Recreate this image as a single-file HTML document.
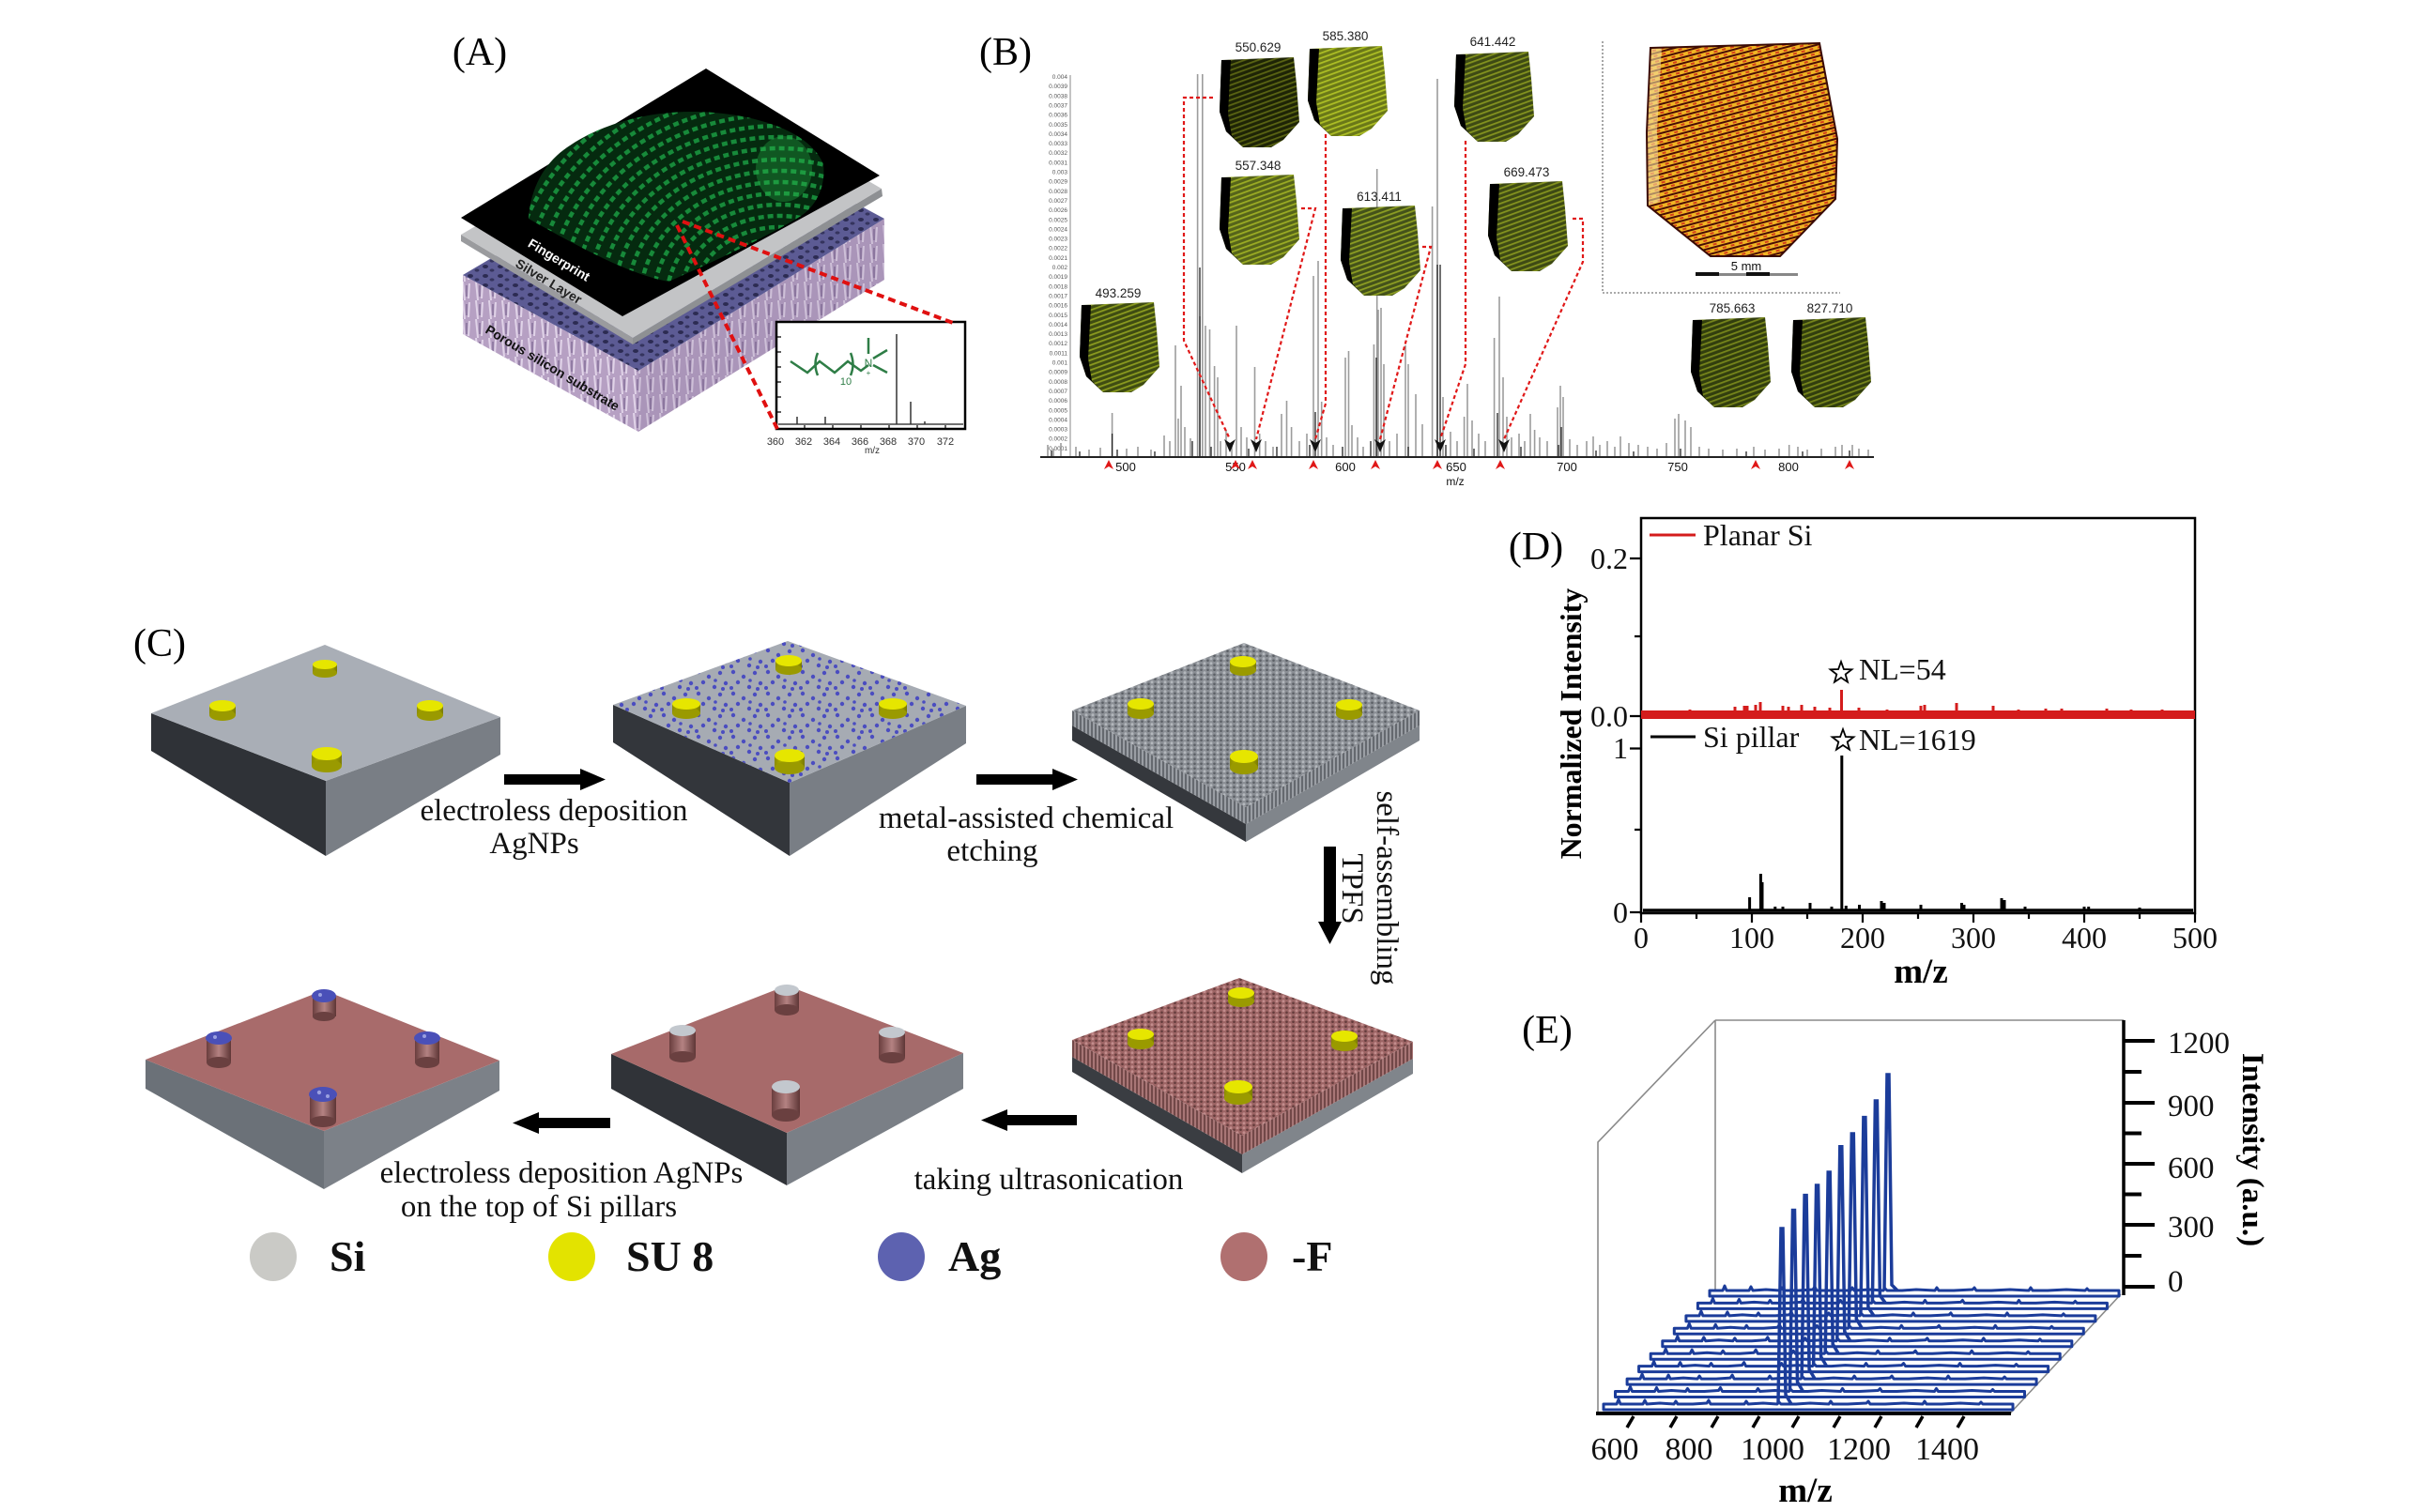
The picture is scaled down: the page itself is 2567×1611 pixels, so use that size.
<!DOCTYPE html>
<html><head><meta charset="utf-8">
<style>
html,body{margin:0;padding:0;background:#fff;}
svg{display:block;}
.s{font-family:"Liberation Serif","Times New Roman",serif;}
.a{font-family:"Liberation Sans",Arial,sans-serif;}
</style></head><body>
<svg xmlns="http://www.w3.org/2000/svg" xmlns:xlink="http://www.w3.org/1999/xlink" width="2567" height="1611" viewBox="0 0 2567 1611">
<defs>
 <pattern id="gw" width="7" height="5" patternUnits="userSpaceOnUse">
  <rect width="7" height="5" fill="#8a8e94"/>
  <circle cx="2" cy="1.8" r="1.5" fill="#b3b7bc"/>
  <circle cx="5.5" cy="3.8" r="1.3" fill="#5c6066"/>
 </pattern>
 <pattern id="gs" width="4" height="20" patternUnits="userSpaceOnUse">
  <rect width="4" height="20" fill="#9a9ea4"/>
  <rect x="2.3" width="1.4" height="20" fill="#4e5258"/>
 </pattern>
 <pattern id="pw" width="7" height="5" patternUnits="userSpaceOnUse">
  <rect width="7" height="5" fill="#9c6464"/>
  <circle cx="2" cy="1.8" r="1.5" fill="#c28c8c"/>
  <circle cx="5.5" cy="3.8" r="1.3" fill="#643c3c"/>
 </pattern>
 <pattern id="ps" width="4" height="20" patternUnits="userSpaceOnUse">
  <rect width="4" height="20" fill="#a87676"/>
  <rect x="2.3" width="1.4" height="20" fill="#5a3434"/>
 </pattern>
 <pattern id="ag" width="37" height="23" patternUnits="userSpaceOnUse">
  <circle cx="4" cy="3" r="2.2" fill="#4b4dc0"/>
  <circle cx="15" cy="8" r="2.2" fill="#4b4dc0"/>
  <circle cx="27" cy="4" r="2.2" fill="#4b4dc0"/>
  <circle cx="33" cy="15" r="2.2" fill="#4b4dc0"/>
  <circle cx="9" cy="14" r="2.2" fill="#4b4dc0"/>
  <circle cx="21" cy="19" r="2.2" fill="#4b4dc0"/>
  <circle cx="30" cy="21" r="2" fill="#4b4dc0"/>
  <circle cx="2" cy="20" r="2" fill="#4b4dc0"/>
  <circle cx="22" cy="12" r="1.8" fill="#4b4dc0"/>
 </pattern>
 <pattern id="lil" width="14" height="20" patternUnits="userSpaceOnUse">
  <rect width="14" height="20" fill="#b6a0c3"/>
  <path d="M3,0 L5,20 M10,2 L9,18" stroke="#e0d3e8" stroke-width="2"/>
  <path d="M7,4 L7,16" stroke="#85709a" stroke-width="1.5"/>
 </pattern>
 <pattern id="hol" width="16" height="10" patternUnits="userSpaceOnUse">
  <rect width="16" height="10" fill="#5c5b94"/>
  <ellipse cx="5" cy="4" rx="3" ry="2" fill="#2c2b52"/>
  <ellipse cx="12" cy="8" rx="2.5" ry="1.6" fill="#35345e"/>
 </pattern>
 <pattern id="fpy" width="8" height="5" patternUnits="userSpaceOnUse" patternTransform="rotate(-20)">
  <rect y="1" width="8" height="1.8" fill="#c9dc2a"/>
 </pattern>
 <pattern id="fpo" width="9" height="6" patternUnits="userSpaceOnUse" patternTransform="rotate(-15)">
  <rect width="9" height="6" fill="#f0b424"/>
  <rect y="0" width="9" height="2" fill="#4a0c04"/>
  <rect x="3" y="3" width="4" height="2" fill="#d4401a"/>
 </pattern>
 <clipPath id="blob"><path d="M563,233 C565,200 580,175 600,160 C640,130 700,115 760,120 C820,125 865,145 877,175 C880,200 868,222 850,232 C820,250 780,270 712,300 C670,292 620,265 563,233 Z"/></clipPath>
 <path id="tb" d="M2,3 L79,0 L82,29 L85,69 L68,88 L55,96 L25,96 L7,79 L0,58 Z"/>
 <path id="tbs" d="M2,3 L12,3 L9,60 L13,84 L25,96 L7,79 L0,58 Z"/>
 <polygon id="star" points="0,-12 2.9,-4 11.4,-3.7 4.7,1.5 7,9.7 0,5 -7,9.7 -4.7,1.5 -11.4,-3.7 -2.9,-4"/>
 <linearGradient id="cylP" x1="0" x2="1" y1="0" y2="0">
  <stop offset="0" stop-color="#6a3e3e"/><stop offset="0.5" stop-color="#b48282"/><stop offset="1" stop-color="#5e3636"/>
 </linearGradient>
 <linearGradient id="cylY" x1="0" x2="1" y1="0" y2="0">
  <stop offset="0" stop-color="#8c8c00"/><stop offset="0.5" stop-color="#d2d200"/><stop offset="1" stop-color="#7a7a00"/>
 </linearGradient>
 <g id="rib">
  <path d="M0,0 L8,0 L14,0 L16,-5 L18,0 L30,0 L42,0 L44,-4 L46,0 L60,-1 L75,0 L77,-3 L79,0 L95,0 L110,-1 L112,-4 L114,0 L130,0 L150,0 L152,-3 L154,0 L170,-1 L185,0 L187,-2 L189,0 L205,0 L220,-1 L240,0 L242,-3 L244,0 L260,0 L280,-1 L282,-3 L284,0 L300,0 L320,-1 L340,0 L342,-3 L344,0 L360,0 L380,-1 L400,0 L402,-2 L404,0 L420,0 L436,0 L436,6 L0,6 Z" fill="#fff" stroke="#1b3c9a" stroke-width="3" stroke-linejoin="round"/>
 </g>
</defs>
<rect width="2567" height="1611" fill="#fff"/>

<!-- ================= PANEL A ================= -->
<text class="s" x="511" y="69" font-size="42" text-anchor="middle">(A)</text>
<polygon points="493,293 680,395 680,460 493,356" fill="url(#lil)"/>
<polygon points="680,395 942,233 942,298 680,460" fill="url(#lil)"/>
<polygon points="680,395 942,233 942,298 680,460" fill="#6a5480" opacity="0.15"/>
<polygon points="493,293 760,135 942,233 680,395" fill="url(#hol)"/>
<polygon points="491,250 674,360 674,367 491,257" fill="#9a9b9e"/>
<polygon points="674,360 939,201 940,209 674,367" fill="#8e9093"/>
<polygon points="491,250 757,95 939,201 674,360" fill="#c3c4c6"/>
<polygon points="491,232 752,73 937,187 663,337" fill="#000"/>
<path d="M563,233 C565,200 580,175 600,160 C640,130 700,115 760,120 C820,125 865,145 877,175 C880,200 868,222 850,232 C820,250 780,270 712,300 C670,292 620,265 563,233 Z" fill="#052a0f"/>
<g clip-path="url(#blob)" fill="none" stroke="#178a3a" stroke-width="4.5" stroke-dasharray="6 4">
 <ellipse cx="830" cy="320" rx="36" ry="30"/><ellipse cx="830" cy="320" rx="50" ry="42"/>
 <ellipse cx="830" cy="320" rx="64" ry="54"/><ellipse cx="830" cy="320" rx="78" ry="66"/>
 <ellipse cx="830" cy="320" rx="92" ry="78"/><ellipse cx="830" cy="320" rx="106" ry="90"/>
 <ellipse cx="830" cy="320" rx="120" ry="102"/><ellipse cx="830" cy="320" rx="134" ry="114"/>
 <ellipse cx="830" cy="320" rx="148" ry="126"/><ellipse cx="830" cy="320" rx="162" ry="138"/>
 <ellipse cx="830" cy="320" rx="176" ry="150"/><ellipse cx="830" cy="320" rx="190" ry="162"/>
 <ellipse cx="830" cy="320" rx="204" ry="174"/><ellipse cx="830" cy="320" rx="218" ry="186"/>
 <ellipse cx="830" cy="320" rx="232" ry="198"/><ellipse cx="830" cy="320" rx="246" ry="210"/>
 <ellipse cx="830" cy="320" rx="260" ry="222"/><ellipse cx="830" cy="320" rx="274" ry="234"/>
 <ellipse cx="830" cy="320" rx="288" ry="246"/>
</g>
<ellipse cx="835" cy="180" rx="30" ry="35" fill="#2cc050" opacity="0.3" clip-path="url(#blob)"/>
<text class="a" font-size="14" font-weight="bold" fill="#fff" text-anchor="middle" transform="translate(593,281) rotate(31)">Fingerprint</text>
<text class="a" font-size="14" font-weight="bold" fill="#222" text-anchor="middle" transform="translate(582,304) rotate(31)">Silver Layer</text>
<text class="a" font-size="14" font-weight="bold" fill="#111" text-anchor="middle" transform="translate(586,396) rotate(31)">Porous silicon substrate</text>
<rect x="827" y="343" width="201" height="114" fill="#fff" stroke="#000" stroke-width="2.5"/>
<g stroke="#000" stroke-width="1.2">
 <path d="M827,359 h5 M827,375 h5 M827,391 h5 M827,407 h5 M827,423 h5 M827,439 h5"/>
 <path d="M857,457 v-4 M887,457 v-4 M917,457 v-4 M947,457 v-4 M977,457 v-4 M1007,457 v-4"/>
</g>
<path d="M829,452 L1026,452" stroke="#444" stroke-width="1.5"/>
<path d="M849,452 V444 M879,452 V444 M955,452 V356 M970,452 V428 M985,452 V449" stroke="#333" stroke-width="1.5"/>
<g stroke="#2e7d46" stroke-width="2.5" fill="none">
 <path d="M842,385 L860,397 L873,385 L889,397 L903,385 L917,395 L925,389"/>
 <path d="M925,360 V377 M930,382 L945,373 M930,389 L945,397"/>
 <path d="M871,376 Q866,388 871,400 M906,376 Q911,388 906,400"/>
</g>
<text class="a" x="925" y="391" font-size="12" fill="#2e7d46" text-anchor="middle">N</text>
<text class="a" x="925" y="400" font-size="8" fill="#2e7d46" text-anchor="middle">+</text>
<text class="a" x="901" y="410" font-size="11" fill="#2e7d46" text-anchor="middle">10</text>
<g class="a" font-size="11" fill="#333" text-anchor="middle">
 <text x="826" y="474">360</text><text x="856" y="474">362</text><text x="886" y="474">364</text>
 <text x="916" y="474">366</text><text x="946" y="474">368</text><text x="976" y="474">370</text><text x="1007" y="474">372</text>
 <text x="929" y="483" font-size="10">m/z</text>
</g>
<path d="M727,236 L1015,344 M721,240 L828,457" stroke="#e01010" stroke-width="4" stroke-dasharray="8 5" fill="none"/>

<!-- ================= PANEL B ================= -->
<text class="s" x="1071" y="69" font-size="42" text-anchor="middle">(B)</text>
<line x1="1140" y1="80" x2="1140" y2="487" stroke="#888" stroke-width="1"/>
<g class="a" font-size="6.5" fill="#555" text-anchor="end">
<text x="1137" y="84">0.004</text><text x="1137" y="94.2">0.0039</text><text x="1137" y="104.3">0.0038</text><text x="1137" y="114.5">0.0037</text>
<text x="1137" y="124.6">0.0036</text><text x="1137" y="134.8">0.0035</text><text x="1137" y="144.9">0.0034</text><text x="1137" y="155.1">0.0033</text>
<text x="1137" y="165.2">0.0032</text><text x="1137" y="175.4">0.0031</text><text x="1137" y="185.5">0.003</text><text x="1137" y="195.7">0.0029</text>
<text x="1137" y="205.8">0.0028</text><text x="1137" y="216">0.0027</text><text x="1137" y="226.1">0.0026</text><text x="1137" y="236.3">0.0025</text>
<text x="1137" y="246.4">0.0024</text><text x="1137" y="256.6">0.0023</text><text x="1137" y="266.7">0.0022</text><text x="1137" y="276.9">0.0021</text>
<text x="1137" y="287">0.002</text><text x="1137" y="297.2">0.0019</text><text x="1137" y="307.3">0.0018</text><text x="1137" y="317.5">0.0017</text>
<text x="1137" y="327.6">0.0016</text><text x="1137" y="337.8">0.0015</text><text x="1137" y="347.9">0.0014</text><text x="1137" y="358.1">0.0013</text>
<text x="1137" y="368.2">0.0012</text><text x="1137" y="378.4">0.0011</text><text x="1137" y="388.5">0.001</text><text x="1137" y="398.7">0.0009</text>
<text x="1137" y="408.8">0.0008</text><text x="1137" y="419">0.0007</text><text x="1137" y="429.1">0.0006</text><text x="1137" y="439.3">0.0005</text>
<text x="1137" y="449.4">0.0004</text><text x="1137" y="459.6">0.0003</text><text x="1137" y="469.7">0.0002</text><text x="1137" y="479.9">0.0001</text>
</g>
<path stroke="#9c9c9c" stroke-width="1.6" fill="none" d="
M1184.6,486V440 M1240,486V464 M1252,486V368 M1255,486V446 M1258,486V411 M1268,486V467 M1275.6,486V79 M1280.8,486V79
M1278,486V337 M1284,486V347 M1288.5,486V351 M1293.6,486V390 M1297,486V402 M1306,486V458 M1317,486V347 M1322,486V455
M1336.5,486V391 M1341.7,486V462 M1365,486V441 M1370.5,486V427 M1375.6,486V455 M1399,486V294 M1404,486V278 M1407.7,486V428
M1433,486V381 M1436.5,486V374 M1440,486V453 M1463.4,486V367 M1466.7,486V180 M1468,486V330 M1471,486V328 M1474,486V388
M1497,486V368 M1500,486V388 M1508,486V420 M1525.6,486V220 M1531,486V84 M1537,486V423 M1559.6,486V444 M1563,486V409
M1568,486V448 M1591.6,486V360 M1597,486V316 M1601,486V402 M1630,486V441 M1634.6,486V458 M1659,486V434 M1662,486V411
M1665,486V423 M1697,486V465 M1726,486V465 M1784,486V446 M1788,486V441 M1795,486V448 M1801,486V455 M1905.7,486V474 M1973,486V474
M1116,486V474 M1122,486V478 M1130,486V472 M1146,486V476 M1160,486V479 M1172,486V477 M1200,486V478 M1212,486V476 M1226,486V479
M1246,486V470 M1262,486V455 M1300,486V470 M1312,486V474 M1328,486V466 M1348,486V470 M1356,486V476 M1384,486V470 M1392,486V462
M1413,486V466 M1420,486V474 M1446,486V466 M1452,486V476 M1480,486V470 M1488,486V462 M1515,486V452 M1545,486V460 M1552,486V470
M1575,486V462 M1582,486V470 M1605,486V444 M1610,486V466 M1618,486V462 M1624,486V470 M1640,486V466 M1648,486V470 M1672,486V468
M1680,486V474 M1690,486V470 M1704,486V474 M1712,486V470 M1720,486V476 M1735,486V472 M1745,486V474 M1755,486V476 M1765,486V478
M1775,486V472 M1810,486V476 M1820,486V478 M1835,486V479 M1850,486V478 M1868,486V476 M1880,486V479 M1895,486V478 M1915,486V476
M1925,486V479 M1940,486V478 M1955,486V476 M1962,486V474 M1980,486V478 M1990,486V479"/>
<path stroke="#222" stroke-width="1.3" fill="none" d="M1184.6,486V462 M1278,486V285 M1401,486V439 M1466,486V381 M1531,486V282 M1534,486V282 M1595,486V440 M1663,486V455
M1120,486V480 M1150,486V481 M1190,486V479 M1230,486V481 M1270,486V470 M1290,486V476 M1330,486V478 M1360,486V476 M1395,486V474 M1430,486V476 M1460,486V470 M1500,486V476 M1540,486V474 M1570,486V478 M1620,486V476 M1660,486V474 M1700,486V480 M1740,486V481 M1790,486V478 M1860,486V481 M1920,486V481 M1970,486V480"/>
<line x1="1108" y1="487" x2="1996" y2="487" stroke="#222" stroke-width="2"/>
<g class="a" font-size="13" fill="#111" text-anchor="middle">
 <text x="1199" y="502">500</text><text x="1316" y="502">550</text><text x="1433" y="502">600</text><text x="1551" y="502">650</text>
 <text x="1669" y="502">700</text><text x="1787" y="502">750</text><text x="1905" y="502">800</text>
 <text x="1550" y="517" font-size="12">m/z</text>
</g>
<g fill="#e01818">
 <polygon points="1181,490 1176,500 1181,497 1186,500"/><polygon points="1316,490 1311,500 1316,497 1321,500"/>
 <polygon points="1334,490 1329,500 1334,497 1339,500"/><polygon points="1399,490 1394,500 1399,497 1404,500"/>
 <polygon points="1465,490 1460,500 1465,497 1470,500"/><polygon points="1531,490 1526,500 1531,497 1536,500"/>
 <polygon points="1598,490 1593,500 1598,497 1603,500"/><polygon points="1870,490 1865,500 1870,497 1875,500"/>
 <polygon points="1970,490 1965,500 1970,497 1975,500"/>
</g>
<g fill="#111">
 <polygon points="1310,482 1304,468 1310,472 1316,468"/><polygon points="1338,482 1332,468 1338,472 1344,468"/>
 <polygon points="1401,482 1395,468 1401,472 1407,468"/><polygon points="1470,482 1464,468 1470,472 1476,468"/>
 <polygon points="1534,482 1528,468 1534,472 1540,468"/><polygon points="1602,482 1596,468 1602,472 1608,468"/>
</g>
<g stroke="#e01818" stroke-width="2.2" stroke-dasharray="4 3" fill="none">
 <path d="M1292,104 H1261 V363 L1310,468"/>
 <path d="M1386,222 H1401 L1338,468"/>
 <path d="M1412,143 V430 L1401,468"/>
 <path d="M1515,263 H1524 L1470,468"/>
 <path d="M1561,150 V388 L1534,468"/>
 <path d="M1675,233 H1686 V279 L1602,468"/>
</g>
<g>
 <use xlink:href="#tb" x="1150" y="322" fill="#3f4c12"/><use xlink:href="#tb" x="1150" y="322" fill="url(#fpy)" opacity="0.55"/><use xlink:href="#tbs" x="1150" y="322" fill="#000"/>
 <use xlink:href="#tb" x="1299" y="61" fill="#1e2406"/><use xlink:href="#tb" x="1299" y="61" fill="url(#fpy)" opacity="0.35"/><use xlink:href="#tbs" x="1299" y="61" fill="#000"/>
 <use xlink:href="#tb" x="1393" y="49" fill="#6a7818"/><use xlink:href="#tb" x="1393" y="49" fill="url(#fpy)" opacity="0.7"/><use xlink:href="#tbs" x="1393" y="49" fill="#000"/>
 <use xlink:href="#tb" x="1299" y="186" fill="#56641a"/><use xlink:href="#tb" x="1299" y="186" fill="url(#fpy)" opacity="0.6"/><use xlink:href="#tbs" x="1299" y="186" fill="#000"/>
 <use xlink:href="#tb" x="1428" y="219" fill="#44521a"/><use xlink:href="#tb" x="1428" y="219" fill="url(#fpy)" opacity="0.55"/><use xlink:href="#tbs" x="1428" y="219" fill="#000"/>
 <use xlink:href="#tb" x="1549" y="55" fill="#3e4a14"/><use xlink:href="#tb" x="1549" y="55" fill="url(#fpy)" opacity="0.5"/><use xlink:href="#tbs" x="1549" y="55" fill="#000"/>
 <use xlink:href="#tb" x="1585" y="193" fill="#3e4a14"/><use xlink:href="#tb" x="1585" y="193" fill="url(#fpy)" opacity="0.5"/><use xlink:href="#tbs" x="1585" y="193" fill="#000"/>
 <use xlink:href="#tb" x="1801" y="338" fill="#323e0e"/><use xlink:href="#tb" x="1801" y="338" fill="url(#fpy)" opacity="0.45"/><use xlink:href="#tbs" x="1801" y="338" fill="#000"/>
 <use xlink:href="#tb" x="1908" y="338" fill="#323e0e"/><use xlink:href="#tb" x="1908" y="338" fill="url(#fpy)" opacity="0.45"/><use xlink:href="#tbs" x="1908" y="338" fill="#000"/>
</g>
<g class="a" font-size="13.5" fill="#222" text-anchor="middle">
 <text x="1191" y="317">493.259</text><text x="1340" y="55">550.629</text><text x="1433" y="43">585.380</text>
 <text x="1340" y="181">557.348</text><text x="1469" y="214">613.411</text><text x="1590" y="49">641.442</text>
 <text x="1626" y="188">669.473</text><text x="1845" y="333">785.663</text><text x="1949" y="333">827.710</text>
</g>
<path d="M1707,44 V312 H1960" stroke="#777" stroke-width="1.3" stroke-dasharray="2 2" fill="none"/>
<path d="M1758,51 L1938,46 L1957,148 L1955,212 L1896,273 L1822,273 L1755,219 L1754,141 Z" fill="url(#fpo)"/>
<path d="M1758,51 L1770,50 L1765,140 L1768,215 L1755,219 L1754,141 Z" fill="#f4e0a0" opacity="0.6"/>
<path d="M1758,51 L1938,46 L1957,148 L1955,212 L1896,273 L1822,273 L1755,219 L1754,141 Z" fill="none" stroke="#3a0a04" stroke-width="2"/>
<rect x="1806" y="291" width="109" height="3" fill="#888"/>
<rect x="1806" y="290" width="25" height="4" fill="#111"/><rect x="1860" y="290" width="25" height="4" fill="#111"/>
<text class="a" x="1860" y="288" font-size="13" text-anchor="middle" fill="#111">5 mm</text>

<!-- ================= PANEL C ================= -->
<text class="s" x="170" y="699" font-size="42" text-anchor="middle">(C)</text>
<polygon points="161,760 347,832 347,912 161,800" fill="#2f3237"/>
<polygon points="347,832 533,764 533,804 347,912" fill="#797e85"/>
<polygon points="346,687 533,764 347,832 161,760" fill="#a9aeb6"/>
<g>
 <rect x="333" y="708" width="26" height="9" fill="url(#cylY)"/><ellipse cx="346" cy="717" rx="13" ry="5" fill="#9a9a00"/><ellipse cx="346" cy="708" rx="13" ry="5" fill="#e6e600"/>
 <rect x="223" y="752" width="28" height="10" fill="url(#cylY)"/><ellipse cx="237" cy="762" rx="14" ry="6" fill="#9a9a00"/><ellipse cx="237" cy="752" rx="14" ry="6" fill="#e6e600"/>
 <rect x="444" y="752" width="28" height="10" fill="url(#cylY)"/><ellipse cx="458" cy="762" rx="14" ry="6" fill="#9a9a00"/><ellipse cx="458" cy="752" rx="14" ry="6" fill="#e6e600"/>
 <rect x="332" y="803" width="32" height="13" fill="url(#cylY)"/><ellipse cx="348" cy="816" rx="16" ry="7" fill="#9a9a00"/><ellipse cx="348" cy="803" rx="16" ry="7" fill="#e6e600"/>
</g>
<polygon points="653,751 841,834 841,912 653,791" fill="#33363b"/>
<polygon points="841,834 1029,752 1029,792 841,912" fill="#797e85"/>
<polygon points="839,683 1029,752 841,834 653,751" fill="#a6abb3"/>
<polygon points="839,683 1029,752 841,834 653,751" fill="url(#ag)"/>
<g>
 <rect x="826" y="704" width="28" height="9" fill="url(#cylY)"/><ellipse cx="840" cy="713" rx="14" ry="6" fill="#9a9a00"/><ellipse cx="840" cy="704" rx="14" ry="6" fill="#e6e600"/>
 <rect x="716" y="750" width="30" height="10" fill="url(#cylY)"/><ellipse cx="731" cy="760" rx="15" ry="6" fill="#9a9a00"/><ellipse cx="731" cy="750" rx="15" ry="6" fill="#e6e600"/>
 <rect x="936" y="750" width="30" height="10" fill="url(#cylY)"/><ellipse cx="951" cy="760" rx="15" ry="6" fill="#9a9a00"/><ellipse cx="951" cy="750" rx="15" ry="6" fill="#e6e600"/>
 <rect x="825" y="805" width="32" height="13" fill="url(#cylY)"/><ellipse cx="841" cy="818" rx="16" ry="7" fill="#9a9a00"/><ellipse cx="841" cy="805" rx="16" ry="7" fill="#e6e600"/>
</g>
<polygon points="1142,773 1327,878 1327,897 1142,789" fill="#35383d"/>
<polygon points="1327,878 1512,773 1512,789 1327,897" fill="#80858b"/>
<polygon points="1142,757 1327,860 1327,878 1142,773" fill="url(#gs)"/>
<polygon points="1327,860 1512,757 1512,773 1327,878" fill="url(#gs)"/>
<polygon points="1325,685 1512,757 1327,860 1142,757" fill="url(#gw)"/>
<g>
 <rect x="1310" y="705" width="28" height="9" fill="url(#cylY)"/><ellipse cx="1324" cy="714" rx="14" ry="6" fill="#9a9a00"/><ellipse cx="1324" cy="705" rx="14" ry="6" fill="#e6e600"/>
 <rect x="1201" y="750" width="28" height="10" fill="url(#cylY)"/><ellipse cx="1215" cy="760" rx="14" ry="6" fill="#9a9a00"/><ellipse cx="1215" cy="750" rx="14" ry="6" fill="#e6e600"/>
 <rect x="1423" y="751" width="28" height="10" fill="url(#cylY)"/><ellipse cx="1437" cy="761" rx="14" ry="6" fill="#9a9a00"/><ellipse cx="1437" cy="751" rx="14" ry="6" fill="#e6e600"/>
 <rect x="1310" y="806" width="30" height="12" fill="url(#cylY)"/><ellipse cx="1325" cy="818" rx="15" ry="7" fill="#9a9a00"/><ellipse cx="1325" cy="806" rx="15" ry="7" fill="#e6e600"/>
</g>
<polygon points="1142,1126 1323,1230 1323,1250 1142,1142" fill="#3a3d42"/>
<polygon points="1323,1230 1505,1128 1505,1144 1323,1250" fill="#80858b"/>
<polygon points="1142,1108 1323,1210 1323,1230 1142,1126" fill="url(#ps)"/>
<polygon points="1323,1210 1505,1110 1505,1128 1323,1230" fill="url(#ps)"/>
<polygon points="1320,1042 1505,1110 1323,1210 1142,1108" fill="url(#pw)"/>
<g>
 <rect x="1308" y="1058" width="28" height="9" fill="url(#cylY)"/><ellipse cx="1322" cy="1067" rx="14" ry="6" fill="#9a9a00"/><ellipse cx="1322" cy="1058" rx="14" ry="6" fill="#e6e600"/>
 <rect x="1201" y="1102" width="28" height="10" fill="url(#cylY)"/><ellipse cx="1215" cy="1112" rx="14" ry="6" fill="#9a9a00"/><ellipse cx="1215" cy="1102" rx="14" ry="6" fill="#e6e600"/>
 <rect x="1418" y="1104" width="28" height="10" fill="url(#cylY)"/><ellipse cx="1432" cy="1114" rx="14" ry="6" fill="#9a9a00"/><ellipse cx="1432" cy="1104" rx="14" ry="6" fill="#e6e600"/>
 <rect x="1304" y="1158" width="30" height="12" fill="url(#cylY)"/><ellipse cx="1319" cy="1170" rx="15" ry="7" fill="#9a9a00"/><ellipse cx="1319" cy="1158" rx="15" ry="7" fill="#e6e600"/>
</g>
<polygon points="651,1123 838,1207 838,1263 651,1160" fill="#303338"/>
<polygon points="838,1207 1026,1122 1026,1160 838,1263" fill="#7a7f86"/>
<polygon points="838,1050 1026,1122 838,1207 651,1123" fill="#a76a6a"/>
<g>
 <rect x="825" y="1055" width="26" height="21" fill="url(#cylP)"/><ellipse cx="838" cy="1076" rx="13" ry="6" fill="#6a4040"/><ellipse cx="838" cy="1055" rx="13" ry="6" fill="#c3c8ce"/>
 <rect x="713" y="1098" width="28" height="28" fill="url(#cylP)"/><ellipse cx="727" cy="1126" rx="14" ry="6" fill="#6a4040"/><ellipse cx="727" cy="1098" rx="14" ry="6" fill="#c3c8ce"/>
 <rect x="936" y="1100" width="28" height="27" fill="url(#cylP)"/><ellipse cx="950" cy="1127" rx="14" ry="6" fill="#6a4040"/><ellipse cx="950" cy="1100" rx="14" ry="6" fill="#c3c8ce"/>
 <rect x="822" y="1158" width="30" height="30" fill="url(#cylP)"/><ellipse cx="837" cy="1188" rx="15" ry="7" fill="#6a4040"/><ellipse cx="837" cy="1158" rx="15" ry="7" fill="#c3c8ce"/>
</g>
<polygon points="155,1129 345,1205 345,1267 155,1160" fill="#6b7178"/>
<polygon points="345,1205 532,1130 532,1162 345,1267" fill="#7c8188"/>
<polygon points="345,1055 532,1130 345,1205 155,1129" fill="#a86b6b"/>
<g>
 <rect x="333" y="1061" width="25" height="22" fill="url(#cylP)"/><ellipse cx="345" cy="1083" rx="12" ry="5" fill="#6a4040"/><ellipse cx="345" cy="1061" rx="13" ry="7" fill="#4a50b8"/>
 <rect x="220" y="1106" width="26" height="26" fill="url(#cylP)"/><ellipse cx="233" cy="1132" rx="13" ry="6" fill="#6a4040"/><ellipse cx="233" cy="1106" rx="14" ry="7" fill="#4a50b8"/>
 <rect x="442" y="1106" width="26" height="26" fill="url(#cylP)"/><ellipse cx="455" cy="1132" rx="13" ry="6" fill="#6a4040"/><ellipse cx="455" cy="1106" rx="14" ry="7" fill="#4a50b8"/>
 <rect x="330" y="1166" width="28" height="29" fill="url(#cylP)"/><ellipse cx="344" cy="1195" rx="14" ry="6" fill="#6a4040"/><ellipse cx="344" cy="1166" rx="15" ry="8" fill="#4a50b8"/>
 <g fill="#9aa0e0"><circle cx="341" cy="1060" r="2"/><circle cx="229" cy="1105" r="2"/><circle cx="452" cy="1104" r="2"/><circle cx="340" cy="1164" r="2.2"/><circle cx="349" cy="1168" r="2"/></g>
</g>
<g fill="#000">
 <rect x="537" y="825" width="83" height="11"/><polygon points="618,819 645,830.5 618,842"/>
 <rect x="1040" y="825" width="83" height="11"/><polygon points="1121,819 1148,830.5 1121,842"/>
 <rect x="572" y="1191" width="78" height="11"/><polygon points="574,1185 546,1196.5 574,1208"/>
 <rect x="1071" y="1188" width="76" height="11"/><polygon points="1073,1182 1045,1193.5 1073,1205"/>
 <rect x="1410" y="902" width="13" height="82"/><polygon points="1404,982 1429,982 1416.5,1006"/>
</g>
<g class="s" font-size="33" fill="#111" text-anchor="middle">
 <text x="590" y="874">electroless deposition</text>
 <text x="569" y="909">AgNPs</text>
 <text x="1093" y="882">metal-assisted chemical</text>
 <text x="1057" y="917">etching</text>
 <text transform="translate(1467,946) rotate(90)">self-assembling</text>
 <text transform="translate(1430,947) rotate(90)">TPFS</text>
 <text x="598" y="1260">electroless deposition AgNPs</text>
 <text x="574" y="1296">on the top of Si pillars</text>
 <text x="1117" y="1267">taking ultrasonication</text>
</g>
<ellipse cx="291" cy="1339" rx="25" ry="26" fill="#cacac6"/>
<ellipse cx="609" cy="1339" rx="25" ry="26" fill="#e3e300"/>
<ellipse cx="960" cy="1339" rx="25" ry="26" fill="#5d62b0"/>
<ellipse cx="1325" cy="1339" rx="25" ry="26" fill="#b07070"/>
<g class="s" font-size="46" font-weight="bold" fill="#111">
 <text x="351" y="1354">Si</text><text x="667" y="1354">SU 8</text><text x="1010" y="1354">Ag</text><text x="1376" y="1354">-F</text>
</g>

<!-- ================= PANEL D ================= -->
<text class="s" x="1636" y="596" font-size="42" text-anchor="middle">(D)</text>
<rect x="1748" y="552" width="590" height="421" fill="none" stroke="#000" stroke-width="2.5"/>
<g stroke="#000" stroke-width="2.2">
 <path d="M1736,595 H1748 M1741,678 H1748 M1736,763 H1748 M1736,797.5 H1748 M1741,884 H1748 M1736,972 H1748"/>
 <path d="M1748,973 V983 M1866,973 V983 M1984,973 V983 M2102,973 V983 M2220,973 V983 M2338,973 V983"/>
 <path d="M1807,973 V979 M1925,973 V979 M2043,973 V979 M2161,973 V979 M2279,973 V979"/>
</g>
<rect x="1748" y="757" width="590" height="9" fill="#d41c1c"/>
<path stroke="#d41c1c" stroke-width="3" fill="none" d="M1848,760V753 M1858,760V752 M1861,760V752 M1870,760V751 M1875,760V748 M1899,760V752 M1905,760V753 M1919,760V751 M1933,760V753 M1949,760V754 M1961.5,760V735 M1980,760V754 M2046,760V752 M2050,760V751 M2084,760V749 M2123,760V752 M2179,760V755 M2196,760V755 M2244,760V755 M2303,760V756 M1800,760V756 M1820,760V757 M2010,760V756 M2150,760V756 M2270,760V756"/>
<path d="M1750,970 H2336" stroke="#000" stroke-width="3.5"/>
<path stroke="#000" stroke-width="3" fill="none" d="M1863.6,970V956 M1875.4,970V931 M1877,970V940 M1890.8,970V966 M1899,970V966 M1928,970V962 M1951,970V966 M1961.8,970V805 M1966.3,970V965 M1980.5,970V964 M2004,970V960 M2007,970V962 M2046,970V964 M2089.5,970V962 M2092,970V964 M2132,970V957 M2135,970V959 M2157,970V966 M2220,970V966 M2224.7,970V966 M2279,970V967"/>
<line x1="1757" y1="570" x2="1806" y2="570" stroke="#d41c1c" stroke-width="3"/>
<line x1="1758" y1="785" x2="1806" y2="785" stroke="#000" stroke-width="3"/>
<g class="s" font-size="32" fill="#111">
 <text x="1814" y="581">Planar Si</text>
 <text x="1814" y="796">Si pillar</text>
 <text x="1980" y="724">NL=54</text>
 <text x="1980" y="799">NL=1619</text>
</g>
<use xlink:href="#star" x="1961" y="717" fill="#fff" stroke="#000" stroke-width="1.8"/>
<use xlink:href="#star" x="1963" y="789" fill="#fff" stroke="#000" stroke-width="1.8"/>
<g class="s" font-size="32" fill="#111" text-anchor="end">
 <text x="1734" y="606">0.2</text><text x="1734" y="774">0.0</text><text x="1734" y="808">1</text><text x="1734" y="983">0</text>
</g>
<g class="s" font-size="32" fill="#111" text-anchor="middle">
 <text x="1748" y="1010">0</text><text x="1866" y="1010">100</text><text x="1984" y="1010">200</text>
 <text x="2102" y="1010">300</text><text x="2220" y="1010">400</text><text x="2338" y="1010">500</text>
</g>
<text class="s" x="2046" y="1047" font-size="37" font-weight="bold" text-anchor="middle">m/z</text>
<text class="s" font-size="32" font-weight="bold" text-anchor="middle" transform="translate(1684,771) rotate(-90)">Normalized Intensity</text>

<!-- ================= PANEL E ================= -->
<text class="s" x="1648" y="1111" font-size="42" text-anchor="middle">(E)</text>
<g stroke="#8a8a8a" stroke-width="1.6" fill="none">
 <path d="M1827,1087 H2262 M1827,1087 V1374 M1827,1087 L1702,1217 V1506 M2141,1506 L2259,1379"/>
</g>
<use xlink:href="#rib" x="1821" y="1375"/>
<path d="M2007,1375 L2010,1145 L2012,1145 L2015,1369 L2021,1375" stroke="#1b3c9a" stroke-width="3.5" fill="none"/>
<use xlink:href="#rib" x="1808.4" y="1388.4"/>
<path d="M1994.4,1388.4 L1997.4,1173 L1999.4,1173 L2002.4,1380.4 L2008.4,1388.4" stroke="#1b3c9a" stroke-width="3.5" fill="none"/>
<use xlink:href="#rib" x="1795.9" y="1401.9"/>
<path d="M1981.9,1401.9 L1984.9,1190.6 L1986.9,1190.6 L1989.9,1392.9 L1995.9,1401.9" stroke="#1b3c9a" stroke-width="3.5" fill="none"/>
<use xlink:href="#rib" x="1783.3" y="1415.3"/>
<path d="M1969.3,1415.3 L1972.3,1208 L1974.3,1208 L1977.3,1405.3 L1983.3,1415.3" stroke="#1b3c9a" stroke-width="3.5" fill="none"/>
<use xlink:href="#rib" x="1770.8" y="1428.8"/>
<path d="M1956.8,1428.8 L1959.8,1221.7 L1961.8,1221.7 L1964.8,1418.8 L1970.8,1428.8" stroke="#1b3c9a" stroke-width="3.5" fill="none"/>
<use xlink:href="#rib" x="1758.2" y="1442.2"/>
<path d="M1944.2,1442.2 L1947.2,1249 L1949.2,1249 L1952.2,1432.2 L1958.2,1442.2" stroke="#1b3c9a" stroke-width="3.5" fill="none"/>
<use xlink:href="#rib" x="1745.6" y="1455.6"/>
<path d="M1931.6,1455.6 L1934.6,1263 L1936.6,1263 L1939.6,1445.6 L1945.6,1455.6" stroke="#1b3c9a" stroke-width="3.5" fill="none"/>
<use xlink:href="#rib" x="1733.1" y="1469.1"/>
<path d="M1919.1,1469.1 L1922.1,1273.6 L1924.1,1273.6 L1927.1,1459.1 L1933.1,1469.1" stroke="#1b3c9a" stroke-width="3.5" fill="none"/>
<use xlink:href="#rib" x="1720.5" y="1482.5"/>
<path d="M1906.5,1482.5 L1909.5,1289.5 L1911.5,1289.5 L1914.5,1472.5 L1920.5,1482.5" stroke="#1b3c9a" stroke-width="3.5" fill="none"/>
<use xlink:href="#rib" x="1708" y="1496"/>
<path d="M1894,1496 L1897,1309 L1899,1309 L1902,1486 L1908,1496" stroke="#1b3c9a" stroke-width="3.5" fill="none"/>
<line x1="2262" y1="1087" x2="2262" y2="1380" stroke="#000" stroke-width="3.5"/>
<g stroke="#000" stroke-width="4">
 <path d="M2262,1109 H2295 M2262,1175 H2295 M2262,1240 H2295 M2262,1305 H2295 M2262,1371 H2295"/>
 <path d="M2262,1142 H2281 M2262,1207.5 H2281 M2262,1272.5 H2281 M2262,1338 H2281"/>
</g>
<line x1="1700" y1="1506" x2="2142" y2="1506" stroke="#000" stroke-width="4"/>
<g stroke="#000" stroke-width="3.5">
 <path d="M1740,1509 L1733,1521 M1786,1509 L1779,1521 M1830,1509 L1823,1521 M1874,1509 L1867,1521 M1916,1509 L1909,1521 M1960,1509 L1953,1521 M2004,1509 L1997,1521 M2048,1509 L2041,1521 M2092,1509 L2085,1521"/>
</g>
<g class="s" font-size="33" fill="#111">
 <text x="2309" y="1122">1200</text><text x="2309" y="1189">900</text><text x="2309" y="1255">600</text>
 <text x="2309" y="1318">300</text><text x="2309" y="1376">0</text>
</g>
<g class="s" font-size="34" fill="#111" text-anchor="middle">
 <text x="1720" y="1555">600</text><text x="1799" y="1555">800</text><text x="1888" y="1555">1000</text>
 <text x="1980" y="1555">1200</text><text x="2074" y="1555">1400</text>
</g>
<text class="s" x="1923" y="1600" font-size="37" font-weight="bold" text-anchor="middle">m/z</text>
<text class="s" font-size="33" font-weight="bold" text-anchor="middle" transform="translate(2389,1225) rotate(90)">Intensity (a.u.)</text>
</svg>
</body></html>
